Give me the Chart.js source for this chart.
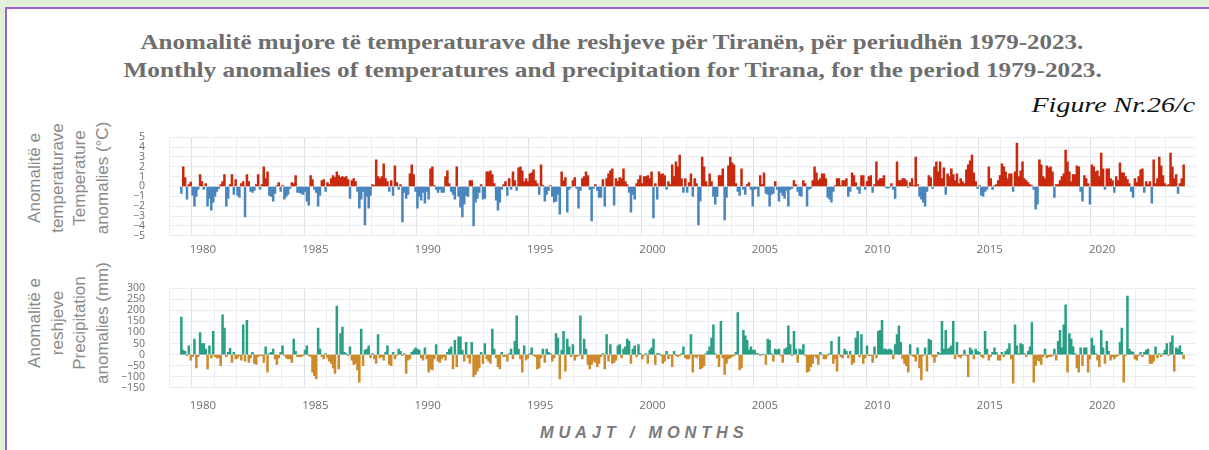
<!DOCTYPE html>
<html>
<head>
<meta charset="utf-8">
<script src="https://cdn.jsdelivr.net/npm/chart.js@4.4.1/dist/chart.umd.min.js"></script>
<style>
  html, body { margin: 0; padding: 0; }
  body { width: 1209px; height: 450px; background: #e2efd9; overflow: hidden; position: relative; }
  #panel { position: absolute; left: 5px; top: 7px; right: 0; bottom: 0; background: #fff;
           border-left: 2px solid #9d62cf; border-top: 2px solid #9d62cf; }
  .txt { position: absolute; white-space: nowrap; }
  .txt span { display: inline-block; transform-origin: center center; }
  .title { font-family: 'Liberation Serif', 'Times New Roman', serif; font-weight: bold; color: #6e6e6e; font-size: 22px; }
  .fig { font-family: 'Liberation Serif', 'Times New Roman', serif; font-style: italic; color: #111; font-size: 22px; }
  .xtitle { font-family: 'Liberation Sans', Arial, sans-serif; font-style: italic; font-weight: bold; color: #7a7a7a;
            font-size: 17px; letter-spacing: 5px; }
  .ytitle { position: absolute; width: 170px; height: 90px; line-height: 22.5px; text-align: center;
            font-family: 'Liberation Sans', Arial, sans-serif; font-size: 17px; color: #8a8a8a;
            transform: rotate(-90deg); transform-origin: center center; }
  canvas { position: absolute; }
</style>
</head>
<body>
<div id="panel"></div>

<div class="txt title" id="t1"><span>Anomalitë mujore të temperaturave dhe reshjeve për Tiranën, për periudhën 1979-2023.</span></div>
<div class="txt title" id="t2"><span>Monthly anomalies of temperatures and precipitation for Tirana, for the period 1979-2023.</span></div>
<div class="txt fig" id="t3"><span>Figure Nr.26/c</span></div>
<div class="txt xtitle" id="t4"><span>MUAJT / MONTHS</span></div>

<div class="ytitle" style="left:-16px; top:133px;">Anomalitë e<br>temperaturave<br>Temperature<br>anomalies (°C)</div>
<div class="ytitle" style="left:-16px; top:278px;">Anomalitë e<br>reshjeve<br>Precipitation<br>anomalies (mm)</div>

<canvas id="tempChart" width="1080" height="159" style="left:120px; top:107px;"></canvas>
<canvas id="precChart" width="1080" height="160" style="left:120px; top:258px;"></canvas>

<script>
// monthly series, starting January 1979 (last value = August 2023)
const startYear = 1979;
const yearLabels = [1980, 1985, 1990, 1995, 2000, 2005, 2010, 2015, 2020];

// temperature anomalies (°C)
const tempAnom = [
  -0.7, 2.0, 0.9, -1.3, 0.2, 0.45, -0.9, -2.0, -1.0, -0.3, 1.2, 0.5,   // 1979
  -0.3, 0.3, -2.0, -1.2, -2.4, -1.6, -1.0, -0.5, -0.2, 0.2, 0.5, 1.2,  // 1980
  -2.0, -1.2, 0.2, 1.2, -0.8, 0.7, -0.9, -1.1, 0.3, 0.5, -3.1, 1.2,    // 1981
  0.5, -0.5, -0.6, -0.4, 0.2, 1.2, -0.3, 0.2, 2.0, 0.8, 1.5, -0.9,     // 1982
  -1.0, -1.5, -0.7, 0.1, 0.4, -0.5, 0.1, -1.3, -1.0, -0.8, -0.2, 0.4,  // 1983
  0.3, 1.1, -0.6, -0.6, -0.7, -0.8, -0.5, -1.5, -1.9, 1.1, 0.7, -0.3,  // 1984
  -0.6, -2.0, -0.9, 0.6, 0.7, -0.5, 0.4, 0.2, 0.8, 1.1, 0.9, 1.5,      // 1985
  1.1, 0.9, 1.0, 0.9, 1.0, 0.7, -1.2, 0.6, 0.8, 0.5, -0.5, -2.2,       // 1986
  -1.3, -0.5, -3.9, -1.0, -2.2, -0.9, 0.2, 0.1, 2.7, 1.0, 0.8, 1.0,    // 1987
  2.3, 0.8, 0.5, -0.5, 0.6, -0.9, 2.1, 0.4, -0.3, 0.2, -3.6, -0.6,     // 1988
  -1.2, -0.8, 1.3, 2.2, 1.2, -0.5, -2.2, -1.0, -1.4, -0.6, -1.7, -0.5, // 1989
  -1.3, 1.8, 2.0, 0.1, -0.3, -0.6, -0.3, -0.6, -0.6, 1.0, 1.6, 0.3,    // 1990
  -0.5, -0.8, -1.3, 2.0, -1.0, -2.1, -3.1, -1.8, -0.9, -1.0, 0.6, 0.6, // 1991
  -4.0, -1.6, -1.2, -0.6, 0.2, -1.3, -1.2, 1.5, 1.5, 1.6, 1.2, 0.3,    // 1992
  -1.4, -2.4, -1.6, -0.3, 0.2, 0.5, -0.9, 0.8, -0.3, 1.5, 0.6, -0.4,   // 1993
  1.9, 2.0, 1.6, 0.5, 0.8, 0.5, 1.3, 1.4, 1.7, 0.6, 0.3, -0.8,         // 1994
  2.2, 0.1, -1.5, -0.8, -0.4, 0.1, -1.0, -1.6, -1.5, -0.8, -2.8, 1.5,  // 1995
  0.6, 0.9, -2.6, -0.3, -0.1, 0.6, 0.9, -0.2, -2.2, -0.4, 0.8, 1.0,    // 1996
  1.5, 1.1, -0.3, -3.5, -0.2, 0.2, -0.4, -1.1, -1.1, 0.7, -2.0, 0.8,   // 1997
  1.3, 1.6, 1.8, -1.9, 0.8, 0.5, 0.9, 0.8, 1.8, 0.5, 0.2, -0.6,        // 1998
  -2.6, -0.8, -1.3, 0.3, 0.7, 1.1, 0.3, 1.0, 1.0, 1.1, 0.8, 1.5,       // 1999
  -3.2, 0.3, -1.3, 1.5, 1.2, 1.3, 1.1, -0.3, 0.5, 0.2, 2.2, 1.0,       // 2000
  2.5, 2.0, 3.2, 0.8, -0.6, 0.8, -0.6, 0.4, 1.3, -1.0, 0.8, 0.3,       // 2001
  -3.9, -1.5, 3.0, 2.0, 0.5, 0.1, 1.3, 0.5, -1.0, -1.8, -1.0, 1.1,     // 2002
  1.1, 1.8, -3.4, -1.1, 2.1, 3.0, 2.4, 2.2, 0.3, -0.5, -0.9, 1.8,      // 2003
  -0.3, -0.8, 0.2, 0.4, -0.3, -2.0, -0.3, -0.2, -1.0, 1.1, 0.2, 1.4,   // 2004
  -0.7, -0.8, -2.0, -0.8, -0.7, 0.5, -0.3, -1.5, -0.6, -0.9, -1.2, -0.4, // 2005
  -2.0, -0.3, -0.2, 0.6, 0.2, -0.5, -0.9, -1.0, 0.6, 0.3, -2.0, -0.3,  // 2006
  -0.2, 0.6, 2.0, 1.4, 0.6, 0.8, 1.3, 1.3, 0.8, -1.1, -1.3, -1.6,      // 2007
  -0.5, 0.1, 0.8, 0.8, 0.1, 0.6, 0.6, 0.8, -1.0, -0.5, 1.4, 1.1,       // 2008
  0.4, -0.3, -0.7, 1.1, 1.1, -0.3, 0.5, 1.0, 1.1, -0.6, 0.2, 2.5,      // 2009
  0.6, 0.8, 0.8, 1.1, -0.1, -0.2, -0.1, 0.3, -0.3, -1.2, 2.5, 0.6,     // 2010
  0.6, 0.8, 0.8, 0.6, -0.1, 0.4, 0.8, 0.1, 3.0, 0.2, -1.0, -1.3,       // 2011
  -1.6, -2.0, -0.5, 1.1, 0.9, -0.2, 2.0, 2.5, 1.5, 2.5, 0.8, 1.9,      // 2012
  -0.8, 1.3, 1.0, 1.8, 1.2, 0.6, 1.3, 0.3, 0.8, 0.5, 0.3, 1.7,         // 2013
  2.2, 2.6, 3.2, 1.4, 0.5, -0.2, 0.1, -0.9, -1.0, -0.5, -0.3, 2.0,     // 2014
  0.8, -0.3, 0.1, 0.2, 0.6, 1.1, 2.3, 2.0, 1.5, 0.8, 1.3, 1.3,         // 2015
  -0.5, 1.5, 4.4, 1.0, 1.6, 2.5, 0.8, 0.6, 0.4, 0.2, 0.1, -0.3,        // 2016
  -2.3, -1.8, 2.7, 2.2, 1.0, 0.8, 2.1, 1.9, 2.0, 1.5, -1.1, 0.2,       // 2017
  0.2, 0.6, 1.0, 1.3, 3.7, 2.5, 1.5, 0.5, 1.2, 1.2, 2.1, 2.0,          // 2018
  -0.5, -1.5, 1.1, 0.8, 0.3, -1.8, 2.2, 2.0, 1.5, 1.6, 1.0, 3.4,       // 2019
  1.8, -0.3, 1.8, 1.8, 0.8, 0.6, -0.6, 1.0, 0.6, 2.4, 1.4, 1.4,        // 2020
  1.0, 0.7, 0.3, -0.5, -1.1, 0.8, 0.4, 1.0, 1.7, 1.8, -0.6, 0.5,       // 2021
  0.2, 0.5, -1.7, 2.7, 0.3, 0.8, 3.0, 2.1, 1.1, 0.3, 0.1, 0.2,         // 2022
  3.4, 2.0, 0.8, 1.2, -0.7, 0.3, 0.8, 2.2                              // 2023
];

// precipitation anomalies (mm)
const precAnom = [
  170, 20, 15, -5, 40, -25, -10, 70, -60, -10, 100, 50,        // 1979
  50, 25, -65, 40, -15, 105, -10, -15, -15, -50, 180, 120,     // 1980
  -10, 10, 28, -35, 10, -20, -15, -5, -25, 135, -30, 155,      // 1981
  -35, -15, 10, -40, -45, -10, -5, -5, -35, 35, -80, 5,        // 1982
  10, 25, -20, -45, -15, 10, 40, -5, -15, -20, -20, -35,       // 1983
  70, 15, -10, -10, -10, -5, 20, 40, -5, -10, -80, -95,        // 1984
  -110, 120, 25, -10, -20, 5, -15, -30, -40, -60, -85, 220,    // 1985
  -65, 95, 125, 10, 5, -5, 35, -25, -45, -40, -70, -125,       // 1986
  115, -50, 20, 25, 40, -15, 5, -20, -40, 90, -15, -10,        // 1987
  -25, 10, 40, -45, -50, 10, -20, -5, 25, 15, -5, 5,           // 1988
  -85, -25, -20, 10, 20, 30, 25, 20, -15, -25, 30, -20,        // 1989
  -80, -65, -70, -20, 45, -30, -35, -20, -10, -25, 10, 25,     // 1990
  35, -65, 65, -55, 80, 80, 20, -30, 55, -15, -40, 55,         // 1991
  -100, -90, -75, -60, 10, -40, 50, -20, -30, -40, 115, 25,    // 1992
  -15, -55, -65, 10, -10, -10, -30, 5, 25, -20, 60, 175,       // 1993
  25, -20, -80, 40, -25, -15, 5, 30, -5, -10, -65, -60,        // 1994
  -15, 25, -35, 25, 10, 5, -30, -15, 95, 75, -110, 20,         // 1995
  105, -75, 70, 35, -10, 45, -25, -10, -5, 175, -20, 70,       // 1996
  25, -45, -65, -45, -30, -35, -55, -40, -10, 5, -65, 90,      // 1997
  -30, 45, -40, -35, -25, 40, 45, -15, 25, 35, 70, 60,         // 1998
  -40, 25, 40, -10, 45, 5, -20, -5, 5, -40, 20, 30,            // 1999
  70, -45, 5, 5, -5, -40, -30, 15, -20, -5, -55, 15,           // 2000
  -5, -10, -5, 5, 35, -15, -20, -20, 90, -80, -10, -15,        // 2001
  -5, -65, -60, -50, 5, 15, 35, 75, 135, 5, -15, -55,          // 2002
  150, -15, -90, -40, -20, -15, -10, -5, 10, 190, -70, -60,    // 2003
  110, 85, 65, 20, 35, 20, 20, 5, 3, -5, 0, 2,                 // 2004
  -45, 70, 65, 5, -30, 25, 20, 25, -5, -35, 25, 30,            // 2005
  130, 45, -5, 105, 25, -35, 25, 20, 45, -5, -80, -75,         // 2006
  -55, -40, -5, -15, -45, 10, 0, -20, -20, -5, 5, 60,          // 2007
  -40, -20, -75, 80, -10, -15, 25, 15, -15, 15, -45, -35,      // 2008
  75, 105, -10, 90, -40, -15, 40, -5, -5, -35, 35, -15,        // 2009
  105, 110, 155, 25, 25, 20, 25, 20, -20, 45, 90, 130,         // 2010
  55, -20, -40, -50, -80, 45, -5, -10, -30, 30, -60, -115,     // 2011
  -5, 30, -75, 70, 65, -10, -35, -10, 10, 5, 150, 25,          // 2012
  110, 25, 30, 40, 150, -20, 55, -10, -15, -5, 20, -5,         // 2013
  -100, 30, 20, -20, 25, 15, 10, -10, -15, 105, 25, -25,       // 2014
  -10, 10, 30, 10, -25, -25, 10, -10, 15, 25, 50, -20,         // 2015
  -130, 135, 40, 5, 50, 45, 5, -10, 15, 35, 145, -125,         // 2016
  -50, -25, -30, -45, -10, 25, -15, -10, -10, -5, 25, -25,     // 2017
  60, 110, 30, 135, 225, -80, 95, 70, 35, 5, -60, -80,         // 2018
  30, -50, 30, 30, -80, -20, 75, 40, 5, -25, -55, 110,         // 2019
  30, -40, 60, 15, -25, -10, -20, -10, -5, 55, 120, -125,      // 2020
  -5, 265, 25, 15, 10, -20, -25, -5, 10, -10, 10, 20,          // 2021
  25, -40, -40, -30, 35, -15, 5, -10, 5, 20, 50, -5,           // 2022
  55, 85, -75, 30, 25, 40, 10, -20                             // 2023
];

const tempColors = { pos: '#c8290c', neg: '#4a86bd' };
const precColors = { pos: '#2b9e86', neg: '#cc8a2a' };

function minusSign(v) {
  return v < 0 ? '\u2212' + Math.abs(v) : String(v);
}

function makeChart(id, values, yMin, yMax, yStep, colors, pad, xHeight, labelPad) {
  const points = values.map((v, i) => ({ x: startYear + (i + 0.5) / 12, y: v }));
  const ctx = document.getElementById(id).getContext('2d');
  return new Chart(ctx, {
    type: 'bar',
    data: {
      datasets: [{
        data: points,
        backgroundColor: c => (c.raw && c.raw.y >= 0 ? colors.pos : colors.neg),
        borderWidth: 0,
        barPercentage: 1,
        categoryPercentage: 1
      }]
    },
    options: {
      responsive: false,
      animation: false,
      layout: { padding: pad },
      plugins: { legend: { display: false }, tooltip: { enabled: false } },
      scales: {
        x: {
          type: 'linear',
          min: startYear,
          max: startYear + values.length / 12,
          afterFit: s => { s.height = xHeight; },
          border: { display: false },
          grid: {
            drawTicks: false,
            color: c => (c.tick && yearLabels.includes(c.tick.value) ? '#dadfe8' : '#eceef3'),
            lineWidth: 1
          },
          ticks: {
            stepSize: 1,
            autoSkip: false,
            maxRotation: 0,
            padding: labelPad,
            color: '#6e6e6e',
            font: { family: "'Open Sans', 'Liberation Sans', sans-serif", size: 11.5 },
            callback: v => (yearLabels.includes(v) ? String(v) : '')
          }
        },
        y: {
          min: yMin,
          max: yMax,
          afterFit: s => { s.width = 49; },
          border: { display: false },
          grid: { drawTicks: false, color: '#e9ecf2', lineWidth: 1 },
          ticks: {
            stepSize: yStep,
            autoSkip: false,
            padding: 24,
            color: '#6e6e6e',
            font: { family: "'Open Sans', 'Liberation Sans', sans-serif", size: 10.5 },
            callback: v => minusSign(v)
          }
        }
      }
    }
  });
}

const tempChart = makeChart('tempChart', tempAnom, -5, 5, 1, tempColors,
  { top: 8, right: 4, left: 0, bottom: 0 }, 25, 7);
const precChart = makeChart('precChart', precAnom, -150, 300, 50, precColors,
  { top: 5, right: 4, left: 0, bottom: 0 }, 30, 11);

// place the html texts: centre x, centre y, width measured on the reference
function placeText(id, cx, cy, targetWidth) {
  const box = document.getElementById(id);
  const span = box.firstElementChild;
  const w = span.offsetWidth, h = span.offsetHeight;
  span.style.transform = 'scaleX(' + (targetWidth / w) + ')';
  box.style.left = (cx - w / 2) + 'px';
  box.style.top = (cy - h / 2) + 'px';
}
placeText('t1', 611.5, 42, 943);
placeText('t2', 612, 70, 978);
placeText('t3', 1113, 105, 164);
placeText('t4', 644, 433, 208);
</script>
</body>
</html>
